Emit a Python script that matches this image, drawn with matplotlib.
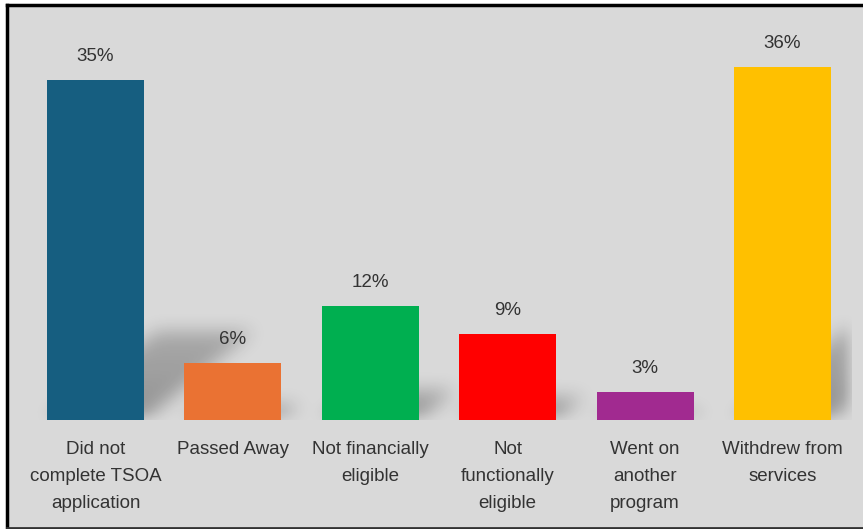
import matplotlib.pyplot as plt
import matplotlib.patches as mpatches
import numpy as np

categories = ["Did not\ncomplete TSOA\napplication", "Passed Away", "Not financially\neligible",
              "Not\nfunctionally\neligible", "Went on\nanother\nprogram", "Withdrew from\nservices"]
values = [34.9, 5.8, 11.7, 8.8, 2.9, 36.2]
colors = ["#165e80", "#ea7233", "#00af50", "#ff0000", "#a12a90", "#ffc000"]

W, H = 863, 529
fig = plt.figure(figsize=(W / 100, H / 100), dpi=100)
fig.patch.set_facecolor("white")

# frame of the picture
fig.add_artist(mpatches.Rectangle((6 / W, 0), 2, 1 - 5.5 / H, transform=fig.transFigure,
                                  facecolor="#d9d9d9", edgecolor="none", zorder=-10))
fig.add_artist(plt.Line2D([6.5 / W, 6.5 / W], [1.5 / H, 1 - 5 / H], color="black", lw=2.5, zorder=-5))
fig.add_artist(plt.Line2D([6.5 / W, 1], [1 - 5 / H, 1 - 5 / H], color="black", lw=2.5, zorder=-5))
fig.add_artist(plt.Line2D([6.5 / W, 1], [1.2 / H, 1.2 / H], color="#333333", lw=2, zorder=-5))

ax = fig.add_axes([26.8 / W, 109 / H, 824.4 / W, 390 / H])
ax.set_zorder(5)
ax.set_facecolor("none")
ymax = 40
ax.set_xlim(-0.5, len(values) - 0.5)
ax.set_ylim(0, ymax)
bw = 0.705
x = np.arange(len(values))

# soft perspective shadow behind the bars
nx, ny = 824, 390
gx = np.linspace(-0.5, len(values) - 0.5, nx)
gy = np.linspace(0, ymax, ny)
XX, YY = np.meshgrid(gx, gy)
mask = np.zeros_like(XX)
px_per_x = 824.4 / len(values)
px_per_y = 390 / ymax
for xi, v in zip(x, values):
    sh_h = v * 0.26
    shift = v * px_per_y * 0.32 / px_per_x
    t = np.clip(YY / sh_h, 0, 1)
    off = shift * t
    inside = (YY <= sh_h) & (XX >= xi - bw / 2 + off) & (XX <= xi + bw / 2 + off)
    mask = np.maximum(mask, inside * (1 - 0.3 * t))
k = np.ones(17) / 17
for _ in range(3):
    mask = np.apply_along_axis(lambda r: np.convolve(r, k, mode="same"), 1, mask)
    mask = np.apply_along_axis(lambda c: np.convolve(c, k, mode="same"), 0, mask)
rgba = np.zeros((ny, nx, 4))
rgba[..., 3] = np.clip(mask * 0.32, 0, 1)
ax.imshow(rgba, extent=(-0.5, len(values) - 0.5, 0, ymax), origin="lower",
          aspect="auto", zorder=1, interpolation="bilinear")

bars = ax.bar(x, values, width=bw, color=colors, zorder=2, edgecolor="none")

font = ["Liberation Sans", "DejaVu Sans"]
txt = "#333333"
for xi, v in zip(x, values):
    ax.annotate(f"{round(v)}%", (xi, v), xytext=(0, 17), textcoords="offset points",
                ha="center", va="center", fontsize=13.5, color=txt, family=font)

ax.set_xticks(x)
ax.set_xticklabels(categories, fontsize=13.5, color=txt, family=font, linespacing=1.78)
ax.tick_params(axis="x", length=0, pad=15)
ax.set_yticks([])
for s in ax.spines.values():
    s.set_visible(False)

fig.savefig("out.png", dpi=100, facecolor="white")
